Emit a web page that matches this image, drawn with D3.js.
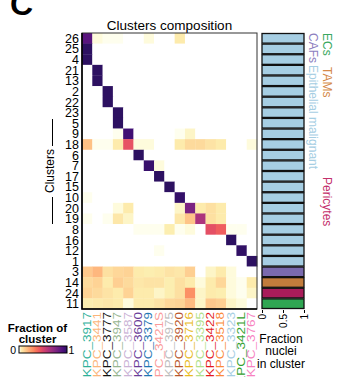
<!DOCTYPE html>
<html>
<head>
<meta charset="utf-8">
<script src="https://cdn.jsdelivr.net/npm/d3@7"></script>
<style>
  html, body { margin: 0; padding: 0; background: #fff; }
  svg { display: block; font-family: "Liberation Sans", Arial, Helvetica, sans-serif; }
</style>
</head>
<body>
<svg id="chart" width="343" height="377"></svg>
<script>
// Clusters (rows, top to bottom) and samples (columns, left to right)
const clusterIds = ['26','25','4','21','13','2','22','23','5','9','18','6','7','17','15','10','20','19','8','16','12','1','3','14','24','11'];
const samples = ['KPC_3917','KPC_3441','KPC_3777','KPC_3947','KPC_3587','KPC_3600','KPC_3379','KPC_3421S','KPC_3975','KPC_3920','KPC_3716','KPC_3395','KPC_3422','KPC_3518','KPC_3323','KPC_3421L','KPC_3767'];
const sampleColors = ['#2fb19a','#fbb57a','#111111','#97b590','#cab2d6','#6a3d9a','#1f78b4','#fb9a99','#bdbdbd','#b9572b','#e9bb1f','#b2df8a','#e31a1c','#fb8a3a','#a6cee3','#33a02c','#f781bf'];

// Fraction of each cluster's nuclei coming from each sample
const fractions = [
  [0.88,0.02,0.01,0.01,0,0,0.02,0,0,0.05,0,0,0,0,0,0,0],          // 26
  [1,0,0,0,0,0,0,0,0,0,0,0,0,0,0,0,0],                              // 25
  [1,0,0,0,0,0,0,0,0,0,0,0,0,0,0,0,0],                              // 4
  [0,1,0,0,0,0,0,0,0,0,0,0,0,0,0,0,0],                              // 21
  [0,1,0,0,0,0,0,0,0,0,0,0,0,0,0,0,0],                              // 13
  [0,0,1,0,0,0,0,0,0,0,0,0,0,0,0,0,0],                              // 2
  [0,0,1,0,0,0,0,0,0,0,0,0,0,0,0,0,0],                              // 22
  [0,0,0,1,0,0,0,0,0,0,0,0,0,0,0,0,0],                              // 23
  [0,0,0,1,0,0,0,0,0,0,0,0,0,0,0,0,0],                              // 5
  [0,0,0,0.01,0.95,0,0,0,0,0.01,0.03,0,0,0,0,0,0],                  // 9
  [0.16,0.01,0.01,0.05,0.45,0.02,0.02,0,0,0.05,0.09,0.09,0.07,0.05,0,0,0.02], // 18
  [0,0,0,0,0,1,0,0,0,0,0,0,0,0,0,0,0],                              // 6
  [0,0,0,0,0,0,0.97,0.02,0,0,0,0,0,0,0,0,0],                        // 7
  [0,0,0,0,0,0,0,1,0,0,0,0,0,0,0,0,0],                              // 17
  [0,0,0,0,0,0,0,0,1,0,0,0,0,0,0,0,0],                              // 15
  [0.01,0,0,0,0,0,0,0,0,0.98,0,0,0,0,0,0,0],                        // 10
  [0,0,0,0.02,0.05,0,0,0,0,0.03,0.77,0.05,0.08,0.05,0,0,0],         // 20
  [0.01,0,0.01,0.06,0.03,0,0,0,0,0.06,0.15,0.63,0.08,0.05,0,0,0],   // 19
  [0,0,0,0,0,0.01,0.01,0.01,0.04,0.01,0.02,0,0.46,0.41,0.01,0.01,0], // 8
  [0,0,0,0,0,0,0,0,0,0,0,0,0,0,1,0,0],                              // 16
  [0,0,0,0,0,0,0,0.01,0,0,0,0,0,0,0,0.99,0],                        // 12
  [0,0,0,0,0,0,0,0,0,0,0,0,0,0,0,0,1],                              // 1
  [0.14,0.18,0.08,0.10,0.11,0.05,0.04,0.05,0.07,0.06,0.12,0,0.03,0.05,0.02,0,0],      // 3
  [0.09,0.11,0.05,0.12,0.09,0.06,0.07,0.07,0.04,0.08,0.05,0.02,0.05,0.10,0.02,0.01,0.05], // 14
  [0.11,0.09,0.07,0.05,0.11,0.05,0.05,0.03,0.04,0.08,0.28,0.03,0.05,0.04,0.02,0.01,0.03], // 24
  [0.04,0.05,0.06,0.05,0.02,0.05,0.05,0.07,0.10,0.11,0.17,0.03,0.14,0.12,0.03,0.02,0]     // 11
];

// Cell type assigned to each cluster and the fraction of its nuclei
const clusterCellType = ['Epithelial malignant','Epithelial malignant','Epithelial malignant','Epithelial malignant','Epithelial malignant','Epithelial malignant','Epithelial malignant','Epithelial malignant','Epithelial malignant','Epithelial malignant','Epithelial malignant','Epithelial malignant','Epithelial malignant','Epithelial malignant','Epithelial malignant','Epithelial malignant','Epithelial malignant','Epithelial malignant','Epithelial malignant','Epithelial malignant','Epithelial malignant','Epithelial malignant','CAFs','TAMs','Pericytes','ECs'];
const nucleiFraction = [1,1,1,1,1,1,1,1,1,1,1,1,1,1,1,1,1,1,1,1,1,1,1,1,1,1];
const barTicks = [0, 0.5, 1];

const cellTypes = ['CAFs','Epithelial malignant','ECs','TAMs','Pericytes'];
const cellTypeFill = {'Epithelial malignant':'#a6cee3','CAFs':'#7a6aae','TAMs':'#c27c3c','Pericytes':'#a91c5a','ECs':'#2fa652'};
const cellTypeText = {'Epithelial malignant':'#a6cee3','CAFs':'#8d80c0','TAMs':'#d58a49','Pericytes':'#c4306b','ECs':'#3aa860'};

const svg = d3.select('#chart');

// Colour: reversed magma fading to white near zero
function cellColor(v) {
  const base = d3.interpolateMagma(1 - 0.83 * v);
  return d3.interpolateRgb('#ffffff', base)(Math.min(1, v / 0.04));
}

const x = d3.scaleBand().domain(samples).range([82, 257]);
const y = d3.scaleBand().domain(clusterIds).range([33, 309]);

// Panel letter and title
svg.append('text').attr('x', 10).attr('y', 14.5)
  .attr('font-size', 32).attr('font-weight', 'bold').text('C');
svg.append('text').attr('x', 169.5).attr('y', 29.5)
  .attr('text-anchor', 'middle').attr('font-size', 13.5).text('Clusters composition');

// Heatmap cells
const cells = [];
clusterIds.forEach((c, i) => samples.forEach((s, j) => cells.push({c, s, v: fractions[i][j]})));
svg.append('g').selectAll('rect').data(cells).join('rect')
  .attr('x', d => x(d.s)).attr('y', d => y(d.c))
  .attr('width', x.bandwidth() + 0.3).attr('height', y.bandwidth() + 0.3)
  .attr('fill', d => cellColor(d.v));

// Frame
svg.append('rect').attr('x', 82).attr('y', 33).attr('width', 175).attr('height', 276)
  .attr('fill', 'none').attr('stroke', '#333').attr('stroke-width', 1);
svg.append('path').attr('d', 'M82,33V309H257').attr('fill', 'none')
  .attr('stroke', '#000').attr('stroke-width', 1.6);

// Row labels
svg.append('g').selectAll('text').data(clusterIds).join('text')
  .attr('x', 79).attr('y', d => y(d) + y.bandwidth() / 2)
  .attr('dy', '0.36em').attr('text-anchor', 'end').attr('font-size', 12.5)
  .text(d => d);

// Column labels
svg.append('g').selectAll('text').data(samples).join('text')
  .attr('transform', d => `translate(${x(d) + x.bandwidth() / 2 + 3.4},312) rotate(-90) scale(1.35,1)`)
  .attr('text-anchor', 'end').attr('font-size', 10)
  .attr('fill', (d, i) => sampleColors[i])
  .text(d => d);

// Axis title with rules
svg.append('text').attr('transform', 'translate(54,171) rotate(-90)')
  .attr('text-anchor', 'middle').attr('font-size', 12).text('Clusters');
svg.append('line').attr('x1', 52.5).attr('x2', 52.5).attr('y1', 119).attr('y2', 146)
  .attr('stroke', '#000').attr('stroke-width', 1);
svg.append('line').attr('x1', 52.5).attr('x2', 52.5).attr('y1', 197).attr('y2', 224)
  .attr('stroke', '#000').attr('stroke-width', 1);

// Cell-type fraction bars
const xb = d3.scaleLinear().domain([0, 1]).range([262, 304]);
svg.append('g').selectAll('rect').data(clusterIds).join('rect')
  .attr('x', xb(0)).attr('y', d => y(d) + 0.5)
  .attr('width', (d, i) => xb(nucleiFraction[i]) - xb(0))
  .attr('height', y.bandwidth() - 1)
  .attr('fill', (d, i) => cellTypeFill[clusterCellType[i]])
  .attr('stroke', '#111').attr('stroke-width', 1.3);

const bAxis = svg.append('g').attr('transform', 'translate(0,310)')
  .call(d3.axisBottom(xb).tickValues(barTicks).tickSize(3).tickFormat(d3.format('')));
bAxis.selectAll('text').attr('font-size', 10).attr('fill', '#000')
  .attr('transform', 'rotate(-90)').attr('text-anchor', 'end')
  .attr('x', -4).attr('y', 0).attr('dy', '0.35em');
bAxis.selectAll('.domain').remove();

svg.append('text').attr('x', 281).attr('font-size', 12).attr('text-anchor', 'middle')
  .selectAll('tspan').data(['Fraction', 'nuclei', 'in cluster']).join('tspan')
  .attr('x', 281).attr('y', (d, i) => 342.5 + i * 12.5).text(d => d);

// Cell-type legend (rotated)
const legendPos = {
  'CAFs': [308.5, 33], 'Epithelial malignant': [308.5, 65],
  'ECs': [323, 33], 'TAMs': [323, 67], 'Pericytes': [323, 177]
};
svg.append('g').selectAll('text').data(cellTypes).join('text')
  .attr('transform', d => `translate(${legendPos[d][0]},${legendPos[d][1]}) rotate(90)`)
  .attr('font-size', 12).attr('fill', d => cellTypeText[d])
  .attr('dy', '-0.02em')
  .text(d => d);

// Colour bar legend
const grad = svg.append('defs').append('linearGradient').attr('id', 'cbar');
d3.range(0, 1.0001, 0.05).forEach(t => grad.append('stop')
  .attr('offset', t).attr('stop-color', cellColor(t)));
svg.append('text').attr('x', 37.5).attr('font-size', 11.5).attr('font-weight', 'bold')
  .attr('text-anchor', 'middle')
  .selectAll('tspan').data(['Fraction of', 'cluster']).join('tspan')
  .attr('x', 37.5).attr('y', (d, i) => 331.8 + i * 11.5).text(d => d);
svg.append('rect').attr('x', 19).attr('y', 346).attr('width', 48).attr('height', 7)
  .attr('fill', 'url(#cbar)').attr('stroke', '#000').attr('stroke-width', 1);
svg.append('text').attr('x', 16).attr('y', 353.5).attr('text-anchor', 'end')
  .attr('font-size', 10.5).text('0');
svg.append('text').attr('x', 68.5).attr('y', 353.5).attr('font-size', 10.5).text('1');
</script>
</body>
</html>
